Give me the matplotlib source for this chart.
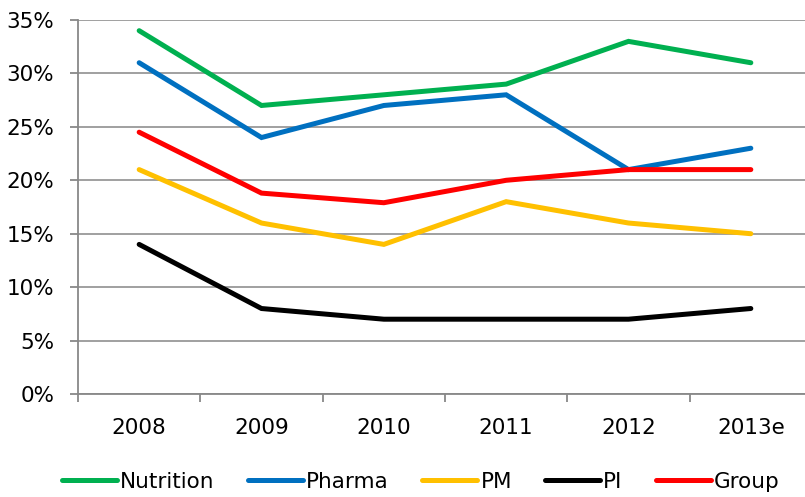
import matplotlib
matplotlib.use("Agg")
import matplotlib.pyplot as plt
from matplotlib.ticker import FuncFormatter

# Data (percent)
years = ["2008", "2009", "2010", "2011", "2012", "2013e"]
nutrition = [34, 27, 28, 29, 33, 31]
pharma = [31, 24, 27, 28, 21, 23]
pm = [21, 16, 14, 18, 16, 15]
pi = [14, 8, 7, 7, 7, 8]
group = [24.5, 18.8, 17.9, 20.0, 21.0, 21.0]

series = [
    ("Nutrition", nutrition, "#00B050"),
    ("Pharma", pharma, "#0070C0"),
    ("PM", pm, "#FFC000"),
    ("PI", pi, "#000000"),
    ("Group", group, "#FF0000"),
]

plt.rcParams["font.family"] = ["DejaVu Sans"]
fs = 15.5

W, H = 805, 497
fig = plt.figure(figsize=(W / 100, H / 100), dpi=100)
ax = fig.add_axes([78 / W, (H - 394) / H, 734 / W, 374 / H])

x = list(range(len(years)))
for name, vals, color in series:
    ax.plot(x, vals, color=color, linewidth=3.6, label=name,
            solid_capstyle="round", solid_joinstyle="miter")

ax.set_xlim(-0.5, len(years) - 0.5)
ax.set_ylim(0, 35)
ax.set_yticks(range(0, 36, 5))
ax.yaxis.set_major_formatter(FuncFormatter(lambda v, p: f"{int(v)}%"))
ax.set_xticks(x)
ax.set_xticklabels(years)
ax.set_xticks([i - 0.5 for i in range(len(years) + 1)], minor=True)
ax.tick_params(axis="x", which="major", length=0, pad=17, labelsize=fs)
ax.tick_params(axis="x", which="minor", length=6, color="#888888", width=1.3)
ax.tick_params(axis="y", length=6, color="#888888", width=1.3, pad=11,
               labelsize=fs)

ax.grid(axis="y", color="#999999", linewidth=1.3)
ax.set_axisbelow(True)
for s in ["top", "right"]:
    ax.spines[s].set_visible(False)
for s in ["left", "bottom"]:
    ax.spines[s].set_color("#888888")
    ax.spines[s].set_linewidth(1.3)

fig.legend(loc="center", bbox_to_anchor=(421 / W, 1 - 482 / H), ncol=5,
           frameon=False, fontsize=fs, handlelength=2.56, handletextpad=0.14,
           columnspacing=1.55, borderpad=0, borderaxespad=0)

fig.savefig("out.png", dpi=100)
